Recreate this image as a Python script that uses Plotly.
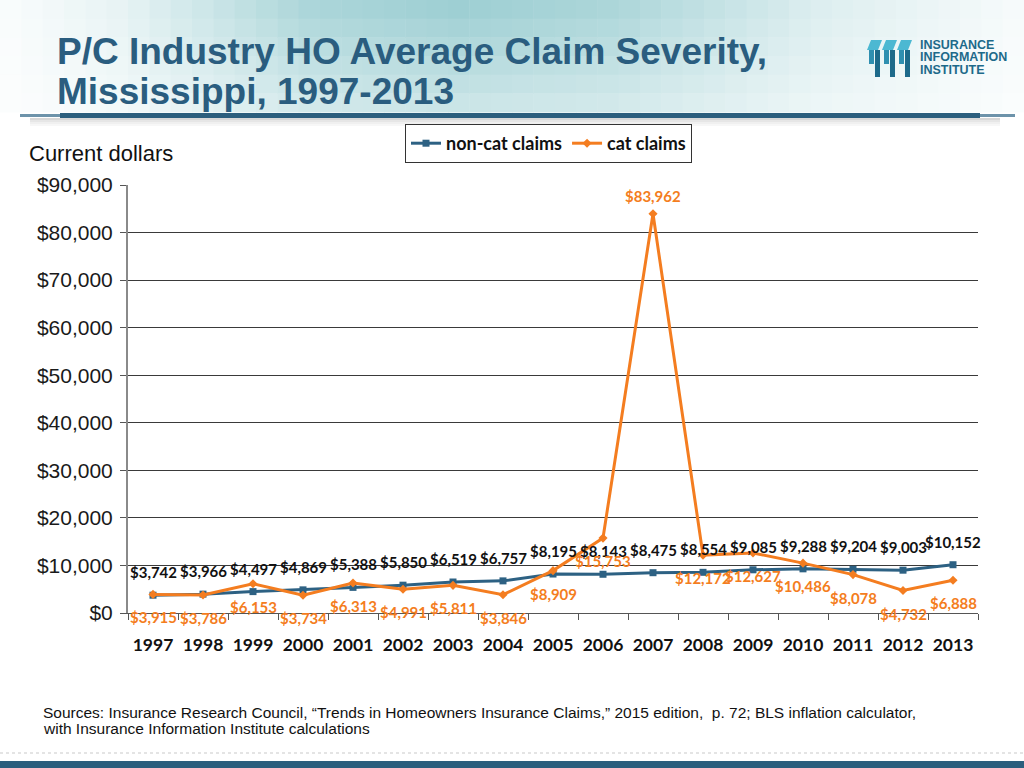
import plotly.graph_objects as go

years = [str(y) for y in range(1997, 2014)]
non_cat = [3742, 3966, 4497, 4869, 5388, 5850, 6519, 6757, 8195, 8143, 8475, 8554, 9085, 9288, 9204, 9003, 10152]
cat = [3915, 3786, 6153, 3734, 6313, 4991, 5811, 3846, 8909, 15753, 83962, 12172, 12627, 10486, 8078, 4732, 6888]
y_ticks = [0, 10000, 20000, 30000, 40000, 50000, 60000, 70000, 80000, 90000]
y_tick_text = ["$0", "$10,000", "$20,000", "$30,000", "$40,000", "$50,000", "$60,000", "$70,000", "$80,000", "$90,000"]

NAVY = "#2d6183"
ORANGE = "#f47d20"
TITLE_C = "#2a5d7f"

# plot area in pixels
L, R, T, B = 128, 978, 185, 613
W, H = 1024, 768


def px(x):
    return (x - L) / (R - L)


def py(y):
    return (B - y) / (B - T)


fig = go.Figure()
fig.add_trace(go.Scatter(
    x=years, y=non_cat, name="non-cat claims", mode="lines+markers",
    line=dict(color=NAVY, width=3), marker=dict(symbol="square", size=7, color=NAVY),
))
fig.add_trace(go.Scatter(
    x=years, y=cat, name="cat claims", mode="lines+markers",
    line=dict(color=ORANGE, width=3), marker=dict(symbol="diamond", size=7, color=ORANGE),
))

annotations = []
lbl_font = dict(family="Lato", size=15, weight="bold")
for i, v in enumerate(non_cat):
    annotations.append(dict(x=i, y=v, xref="x", yref="y", text=f"${v:,}", showarrow=False,
                            yshift=23, font=dict(lbl_font, color="#111111")))
cmax = max(cat)
for i, v in enumerate(cat):
    annotations.append(dict(x=i, y=v, xref="x", yref="y", text=f"${v:,}", showarrow=False,
                            yshift=18 if v == cmax else -23, font=dict(lbl_font, color=ORANGE)))

# Title
annotations.append(dict(x=px(55), y=py(51), xref="paper", yref="paper", xanchor="left", yanchor="middle",
                        text="P/C Industry HO Average Claim Severity,", showarrow=False,
                        font=dict(family="Liberation Sans", size=37, color=TITLE_C, weight="bold")))
annotations.append(dict(x=px(55), y=py(91), xref="paper", yref="paper", xanchor="left", yanchor="middle",
                        text="Mississippi, 1997-2013", showarrow=False,
                        font=dict(family="Liberation Sans", size=37, color=TITLE_C, weight="bold")))
# Current dollars
annotations.append(dict(x=px(27), y=py(153), xref="paper", yref="paper", xanchor="left", yanchor="middle",
                        text="Current dollars", showarrow=False,
                        font=dict(family="Liberation Sans", size=22, color="#111111")))
# Sources
src_lines = ["Sources: Insurance Research Council, \u201cTrends in Homeowners Insurance Claims,\u201d 2015 edition,  p. 72; BLS inflation calculator,",
             "with Insurance Information Institute calculations"]
for i, t in enumerate(src_lines):
    annotations.append(dict(x=px(41), y=py(712 + 16 * i), xref="paper", yref="paper", xanchor="left",
                            yanchor="middle", text=t, showarrow=False,
                            font=dict(family="Liberation Sans", size=15.5, color="#111111")))
# Logo text
for i, t in enumerate(["INSURANCE", "INFORMATION", "INSTITUTE"]):
    annotations.append(dict(x=px(918), y=py(45 + 12.5 * i), xref="paper", yref="paper", xanchor="left",
                            yanchor="middle", text=t, showarrow=False,
                            font=dict(family="Liberation Sans", size=12.5, color="#1d6a8a", weight="bold")))

shapes = []


def lerp(a, b, t):
    return a + (b - a) * t


prof = [(0, 0.05), (0.12, 0.25), (0.3, 0.85), (0.45, 1.0), (0.6, 0.85), (0.8, 0.35), (1.0, 0.08)]


def wgt(t):
    for (a, wa), (b, wb) in zip(prof[:-1], prof[1:]):
        if a <= t <= b:
            return lerp(wa, wb, (t - a) / (b - a))
    return 0


teal = (158, 207, 211)
NX, NY = 48, 6
for i in range(NX):
    x0 = i * W / NX
    x1 = (i + 1) * W / NX
    wx = wgt((x0 + x1) / 2 / W)
    for j in range(NY):
        y0 = j * 112 / NY
        y1 = (j + 1) * 112 / NY
        vy = lerp(1.0, 0.55, j / (NY - 1))
        w_ = wx * vy
        c = tuple(int(round(lerp(255, tc, w_))) for tc in teal)
        shapes.append(dict(type="rect", xref="paper", yref="paper", layer="below",
                           x0=px(x0), x1=px(x1 + 0.5), y0=py(y1 + 0.5), y1=py(y0),
                           fillcolor=f"rgb{c}", line=dict(width=0)))
# shadow under header line
for k, col in enumerate(["#d8d8d8", "#e6e6e6", "#f0f0f0", "#f7f7f7"]):
    shapes.append(dict(type="rect", xref="paper", yref="paper", layer="below",
                       x0=px(30), x1=px(1000), y0=py(118 + 2 * (k + 1)), y1=py(118 + 2 * k),
                       fillcolor=col, line=dict(width=0)))
# header dark line (tapered ends)
shapes.append(dict(type="rect", xref="paper", yref="paper", x0=px(60), x1=px(980), y0=py(118), y1=py(113),
                   fillcolor="#2b5e7d", line=dict(width=0), layer="below"))
shapes.append(dict(type="rect", xref="paper", yref="paper", x0=px(20), x1=px(60), y0=py(117), y1=py(114),
                   fillcolor="#6d93aa", line=dict(width=0), layer="below"))
shapes.append(dict(type="rect", xref="paper", yref="paper", x0=px(980), x1=px(1015), y0=py(117), y1=py(114),
                   fillcolor="#6d93aa", line=dict(width=0), layer="below"))
# bottom bar
shapes.append(dict(type="rect", xref="paper", yref="paper", x0=px(0), x1=px(1024), y0=py(768), y1=py(761),
                   fillcolor="#2b5e7d", line=dict(width=0)))
shapes.append(dict(type="line", xref="paper", yref="paper", x0=px(0), x1=px(1024), y0=py(753), y1=py(753),
                   line=dict(color="#e4e4e4", width=2, dash="dot")))
# logo icon
for k in range(3):
    bx = 868 + k * 15
    path = f"M {px(bx+3)} {py(40)} L {px(bx+14)} {py(40)} L {px(bx+10)} {py(50)} L {px(bx-1)} {py(50)} Z"
    shapes.append(dict(type="path", xref="paper", yref="paper", path=path, fillcolor="#4cb8d2",
                       line=dict(width=0)))
    shapes.append(dict(type="rect", xref="paper", yref="paper", x0=px(bx + 7), x1=px(bx + 12),
                       y0=py(77), y1=py(50), fillcolor="#1d6a8a", line=dict(width=0)))
    shapes.append(dict(type="rect", xref="paper", yref="paper", x0=px(bx + 1), x1=px(bx + 6),
                       y0=py(64), y1=py(50), fillcolor="#2f8fb0", line=dict(width=0)))

fig.update_layout(
    width=W, height=H,
    margin=dict(l=L, r=W - R, t=T, b=H - B, pad=0),
    paper_bgcolor="white", plot_bgcolor="white",
    showlegend=True,
    legend=dict(orientation="h", x=px(405), y=py(124), xanchor="left", yanchor="top",
                bordercolor="#333333", borderwidth=1, bgcolor="white",
                font=dict(family="Lato", size=18, color="#111111", weight="bold"),
                itemwidth=30, tracegroupgap=0),
    annotations=annotations,
    shapes=shapes,
    xaxis=dict(type="category", range=[-0.5, 16.5], showgrid=False, tickson="boundaries",
               ticks="outside", ticklen=6, tickcolor="#555555", showline=True, linecolor="#555555",
               linewidth=1, tickangle=0,
               tickfont=dict(family="Lato", size=17.5, color="#111111", weight="bold"),
               ticklabelstandoff=16, fixedrange=True),
    yaxis=dict(range=[0, 90000], tickvals=y_ticks, ticktext=y_tick_text, showgrid=True,
               gridcolor="#3a3a3a", gridwidth=1, ticks="outside", ticklen=6, tickcolor="#555555",
               showline=True, linecolor="#8a8a8a", linewidth=2, zeroline=False,
               tickfont=dict(family="Liberation Sans", size=21, color="#1a1a1a"),
               ticklabelstandoff=3, fixedrange=True),
)

fig.write_html("out.html", config={"displayModeBar": False},
               post_script="document.body.style.margin='0';document.body.style.padding='0';")
